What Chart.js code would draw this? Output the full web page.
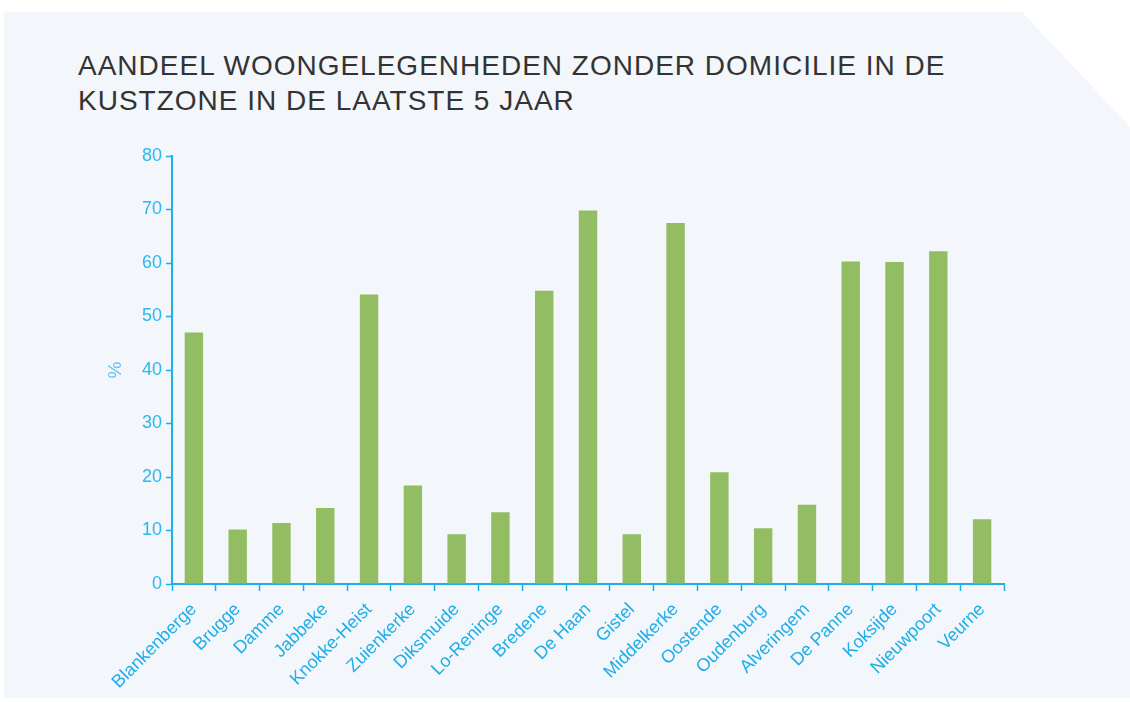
<!DOCTYPE html>
<html>
<head>
<meta charset="utf-8">
<script src="https://cdn.jsdelivr.net/npm/chart.js@4.4.1/dist/chart.umd.min.js"></script>
<style>
  html, body { margin: 0; padding: 0; background: #ffffff; }
  #panel {
    position: absolute; left: 4px; top: 12px; width: 1126px; height: 686px;
    background: #f3f6fb;
    clip-path: polygon(0 0, 1018px 0, 1126px 115px, 1126px 686px, 0 686px);
  }
  #title {
    position: absolute; left: 78px; top: 48px;
    font-family: "Liberation Sans", sans-serif;
    font-size: 28px; line-height: 35px; color: #333333; letter-spacing: 1px;
  }
  #wrap { position: absolute; left: 0; top: 0; width: 1130px; height: 702px; }
</style>
</head>
<body>
<div id="panel"></div>
<div id="title">AANDEEL WOONGELEGENHEDEN ZONDER DOMICILIE IN DE<br>KUSTZONE IN DE LAATSTE 5 JAAR</div>
<div id="wrap"><canvas id="chart" width="1130" height="702"></canvas></div>
<script>
var gemeenten = ["Blankenberge", "Brugge", "Damme", "Jabbeke", "Knokke-Heist", "Zuienkerke",
    "Diksmuide", "Lo-Reninge", "Bredene", "De Haan", "Gistel", "Middelkerke", "Oostende",
    "Oudenburg", "Alveringem", "De Panne", "Koksijde", "Nieuwpoort", "Veurne"];
var aandeel = [47.0, 10.2, 11.4, 14.2, 54.1, 18.4, 9.3, 13.4, 54.8, 69.8, 9.3, 67.5, 20.9,
    10.4, 14.8, 60.3, 60.2, 62.2, 12.1];
var yMax = 80;
var yStep = 10;

var blauw = "#1eaee9";

new Chart(document.getElementById("chart"), {
    type: 'bar',
    data: {
        labels: gemeenten,
        datasets: [{
            label: "%",
            data: aandeel,
            backgroundColor: "#93bd62",
            borderWidth: 0,
            barPercentage: 0.42,
            categoryPercentage: 1
        }]
    },
    options: {
        responsive: false,
        animation: false,
        layout: { padding: { left: 104, right: 126, top: 156, bottom: 0 } },
        plugins: { legend: { display: false }, tooltip: { enabled: false } },
        scales: {
            x: {
                border: { color: blauw, width: 2 },
                grid: { offset: true, drawOnChartArea: false, color: blauw, tickLength: 7, tickWidth: 1.5 },
                ticks: {
                    color: blauw, maxRotation: 45, minRotation: 45, padding: 8,
                    font: { family: "Liberation Sans", size: 18 }
                },
                afterFit: function (scale) { scale.height = 118; }
            },
            y: {
                min: 0, max: yMax,
                border: { color: blauw, width: 2 },
                grid: { drawOnChartArea: false, color: blauw, tickLength: 6, tickWidth: 1.5 },
                ticks: {
                    stepSize: yStep, color: "#29b8f0", padding: 4,
                    font: { family: "Liberation Sans", size: 18 }
                },
                title: {
                    display: true, text: "%", color: "#5cc6f0", padding: 0,
                    font: { family: "Liberation Sans", size: 19 }
                },
                afterFit: function (scale) { scale.width = 68; }
            }
        }
    }
});
</script>
</body>
</html>
